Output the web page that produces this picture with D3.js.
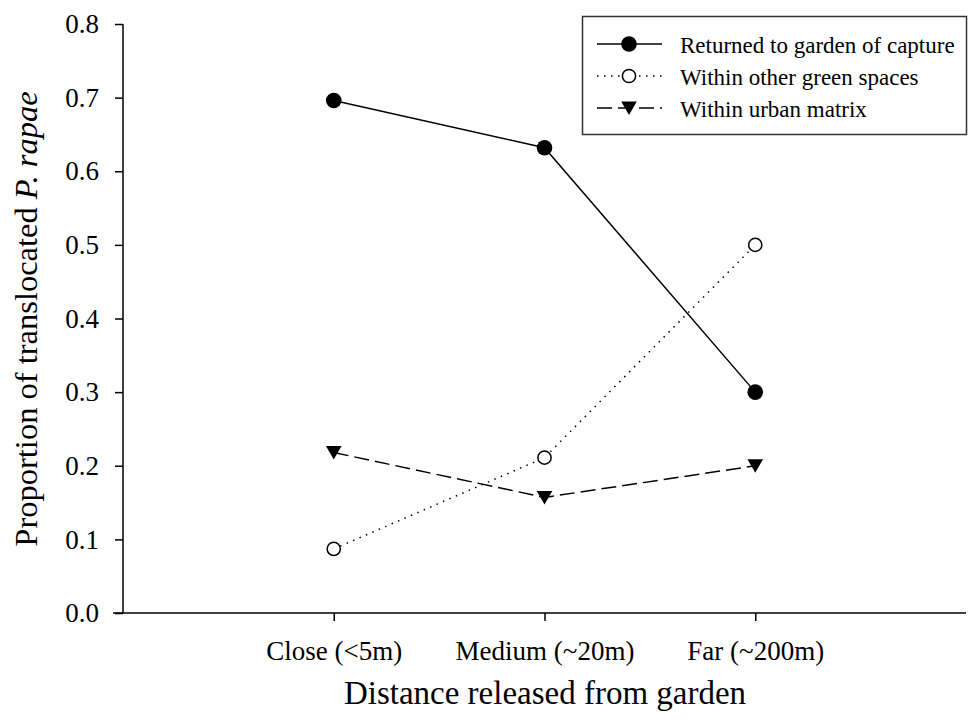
<!DOCTYPE html>
<html>
<head>
<meta charset="utf-8">
<script src="https://cdn.jsdelivr.net/npm/d3@7"></script>
<style>
  body { margin: 0; background: #fff; }
  text { font-family: "Liberation Serif", "Times New Roman", serif; fill: #000; }
</style>
</head>
<body>
<svg id="chart" width="968" height="723"></svg>
<script>
// 数据
const categories = ["Close (<5m)", "Medium (~20m)", "Far (~200m)"];
const returned = [0.696, 0.632, 0.300];
const greenSpaces = [0.087, 0.211, 0.500];
const urbanMatrix = [0.218, 0.157, 0.200];
const yTicks = [0.0, 0.1, 0.2, 0.3, 0.4, 0.5, 0.6, 0.7, 0.8];

const seriesList = [
    { name: "Returned to garden of capture", values: returned, dash: null, marker: "filled" },
    { name: "Within other green spaces", values: greenSpaces, dash: "1.5,5.5", marker: "open" },
    { name: "Within urban matrix", values: urbanMatrix, dash: "15,6", marker: "triangle" }
];

const svg = d3.select("#chart");
const plotLeft = 123, plotRight = 966, plotTop = 24, plotBottom = 613;

// 比例尺
const x = d3.scaleLinear().domain([0, categories.length + 1]).range([plotLeft, plotRight]);
const y = d3.scaleLinear().domain([0, 0.8]).range([plotBottom, plotTop]);

// 坐标轴
const yAxis = svg.append("g")
    .attr("transform", `translate(${plotLeft},0)`)
    .call(d3.axisLeft(y).tickValues(yTicks).tickSize(8).tickPadding(16).tickFormat(d3.format(".1f")));
const xAxis = svg.append("g")
    .attr("transform", `translate(0,${plotBottom})`)
    .call(d3.axisBottom(x).tickValues(d3.range(1, categories.length + 1)).tickSize(8).tickPadding(20)
        .tickFormat(i => categories[i - 1]));

[yAxis, xAxis].forEach(g => {
    g.attr("font-family", null).attr("font-size", null);
    g.selectAll("text").attr("font-size", 27);
    g.selectAll("line, path").attr("stroke", "#000").attr("stroke-width", 1.5);
});
yAxis.select(".domain").attr("d", `M0,${plotTop}V${plotBottom}`);
xAxis.select(".domain").attr("d", `M${plotLeft - 10},0H${plotRight}`);

// 轴标题
svg.append("text")
    .attr("x", 545)
    .attr("y", 704)
    .attr("text-anchor", "middle")
    .attr("font-size", 33)
    .text("Distance released from garden");

const yt = svg.append("text")
    .attr("transform", `translate(37,319) rotate(-90)`)
    .attr("text-anchor", "middle")
    .attr("font-size", 32.5);
yt.append("tspan").text("Proportion of translocated ");
yt.append("tspan").attr("font-style", "italic").text("P. rapae");

// 绘制标记
function drawMarker(g, type, cx, cy) {
    if (type === "filled") {
        g.append("circle").attr("cx", cx).attr("cy", cy).attr("r", 7.8).attr("fill", "#000");
    } else if (type === "open") {
        g.append("circle").attr("cx", cx).attr("cy", cy).attr("r", 6.6)
            .attr("fill", "#fff").attr("stroke", "#000").attr("stroke-width", 1.5);
    } else {
        g.append("path")
            .attr("d", `M${cx - 7.8},${cy - 6.5}L${cx + 7.8},${cy - 6.5}L${cx},${cy + 7}Z`)
            .attr("fill", "#000");
    }
}

const line = d3.line().x((d, i) => x(i + 1)).y(d => y(d));

seriesList.forEach(s => {
    const g = svg.append("g");
    g.append("path")
        .datum(s.values)
        .attr("d", line)
        .attr("fill", "none")
        .attr("stroke", "#000")
        .attr("stroke-width", 1.5)
        .attr("stroke-dasharray", s.dash);
    s.values.forEach((v, i) => drawMarker(g, s.marker, x(i + 1), y(v)));
});

// 图例
const lg = svg.append("g");
lg.append("rect")
    .attr("x", 582.5).attr("y", 16.5).attr("width", 384).attr("height", 118)
    .attr("fill", "#fff").attr("stroke", "#333").attr("stroke-width", 1.5);
seriesList.forEach((s, i) => {
    const cy = 44 + i * 32;
    lg.append("line")
        .attr("x1", 597).attr("x2", 662).attr("y1", cy).attr("y2", cy)
        .attr("stroke", "#000").attr("stroke-width", 1.5)
        .attr("stroke-dasharray", s.dash);
    drawMarker(lg, s.marker, 629, cy);
    lg.append("text")
        .attr("x", 680).attr("y", cy + 8.5)
        .attr("font-size", 23)
        .text(s.name);
});
</script>
</body>
</html>
